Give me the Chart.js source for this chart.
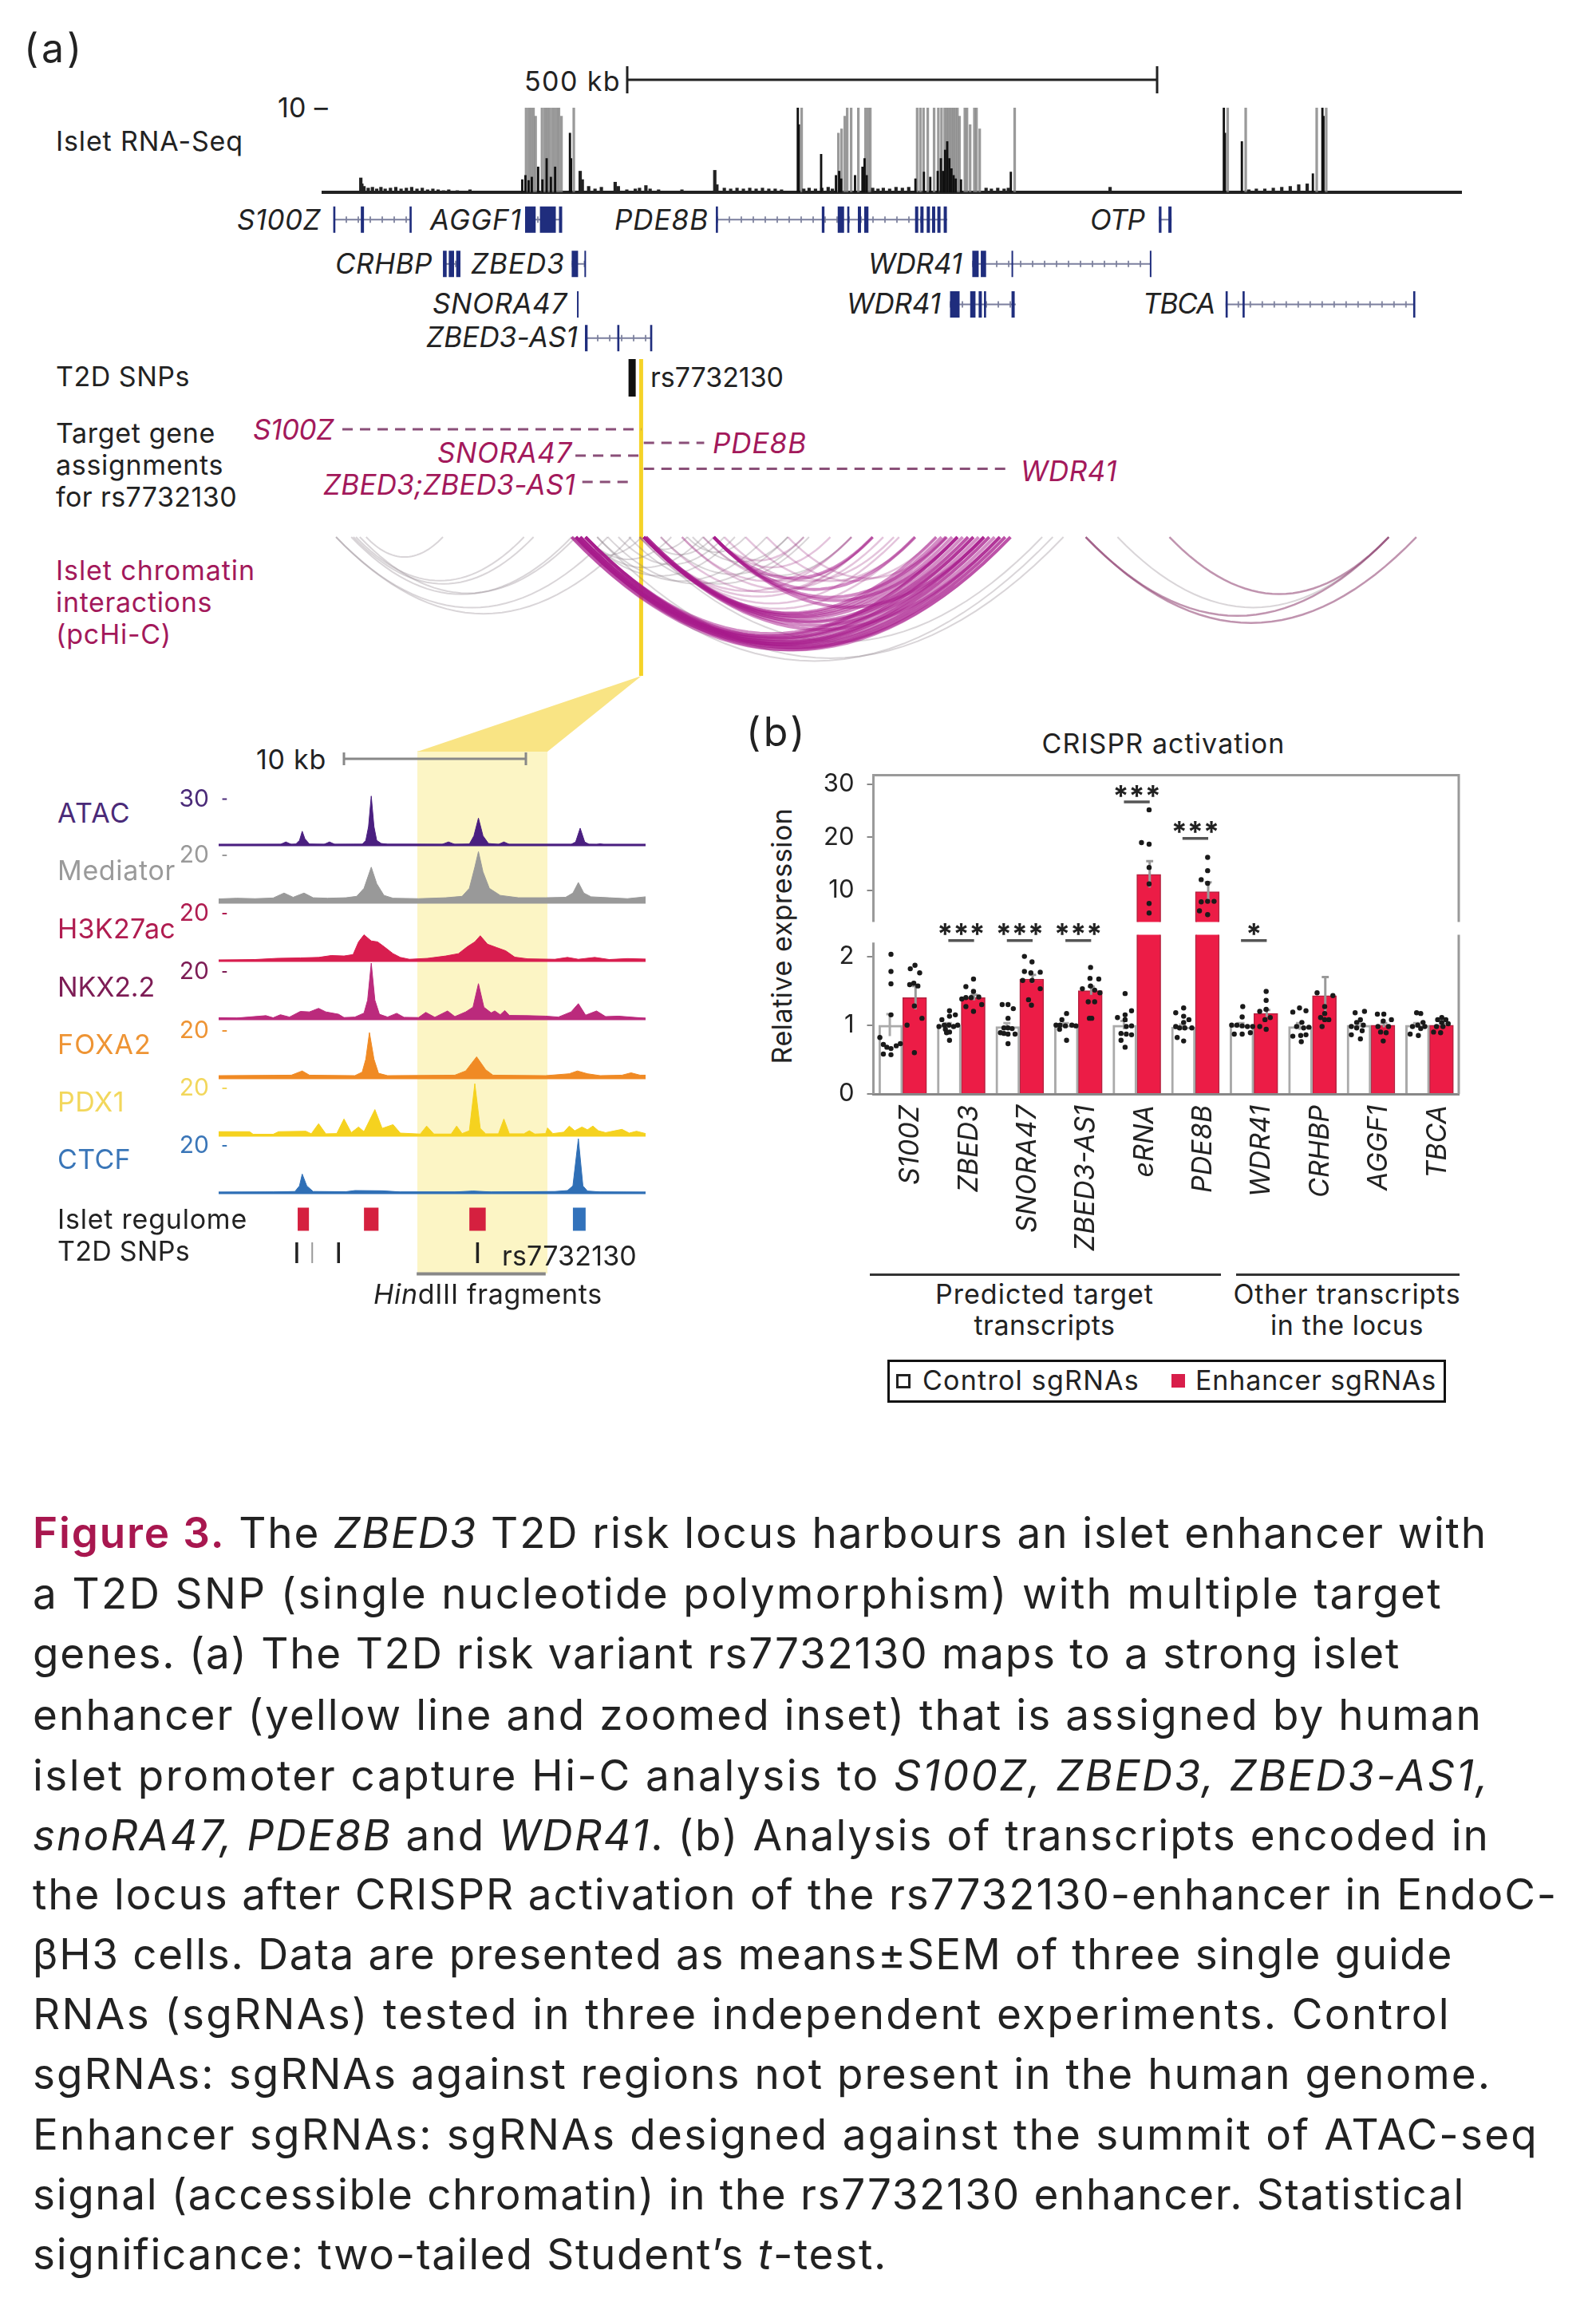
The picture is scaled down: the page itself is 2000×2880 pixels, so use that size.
<!DOCTYPE html>
<html>
<head>
<meta charset="utf-8">
<title>ZBED3 T2D risk locus</title>
<script src="https://cdn.jsdelivr.net/npm/chart.js@4"></script>
<style>
  html, body { margin: 0; background: #fff; }
  #page { position: relative; width: 2000px; height: 2880px; overflow: hidden; font-family: Inter, sans-serif; color: #222; }
  #page canvas { position: absolute; }
  .t { position: absolute; white-space: nowrap; line-height: 1; }
  .box { position: absolute; }
</style>
</head>
<body>
<div id="page"></div>
<script>
// ---- panel (a): all x values in kb along the locus
const locusKb = 1076;
const rnaTallPos = [191,193.5,195.7,198,200,206,208.6,210.8,213,215.5,217.7,220,222,224.4,236,451,485.7,488.7,491.7,494,497.7,504.5,511.3,513.6,515.8,560,563,566,570,576,580,583,586,588,590,592,594,596,598,600,605,607,610,614,616,619,652,853,870,937,946];
const rnaTallVal = [10,10,10,10,9,10,10,10,10,10,10,10,10,9,10,10,7,7.5,9,10,10,10,10,10,10,10,10,10,10,10,10,10,10,10,10,10,10,10,10,9,10,10,8,10,10,7.5,10,10,10,10,10];
const rnaDarkPos = [191,194,197,200,206,210,214,218,222,236,237,451,452,473,487,490,492,505,512,514,516,562,570,576,583,586,588,590,592,594,596,598,600,605,652,853,854,870,937,946,947];
const rnaDarkVal = [1.5,2,1.4,1.8,3,1.5,4,1.8,3,7,4,10,8,4.5,2,2.5,1.6,2,3,4,2,1.6,2.4,1.8,2.5,4,2.5,5,6,4,2.8,2,1.6,1.5,2.4,10,7,6,2.2,10,9];
const rnaLowPos = [37,38,40,44,48,52,56,60,65,70,75,80,85,90,95,100,105,110,115,120,128,140,244,246,252,258,264,277,280,288,296,300,306,310,318,340,371,373,380,386,392,398,404,410,416,422,428,434,455,460,466,472,478,482,520,525,530,536,542,548,554,627,632,638,644,648,744,875,882,890,898,906,914,922,930];
const rnaLowVal = [1.7,1,.7,.5,.6,.4,.6,.4,.5,.6,.4,.5,.6,.4,.5,.3,.4,.3,.2,.3,.2,.3,2.5,1.5,.7,.4,.6,1.2,.7,.3,.4,.5,.8,.4,.3,.3,2.6,.9,.5,.4,.5,.4,.5,.4,.5,.4,.4,.3,.4,.5,.4,.5,.6,.4,.5,.4,.5,.4,.6,.5,.6,.5,.4,.5,.4,.5,.6,.3,.4,.4,.5,.6,.7,.9,1];

const geneRowY = [0, 1.12, 2.15, 3];
const geneIntrons = [
  [0,11.3,84.3],[0,192,226.7],[0,372.7,590.4],[0,790,802],[1,114.5,131],[1,236,248.5],
  [3,248.5,311],[1,613.7,782.4],[2,592.6,655],[2,853,1030.9]
];
const geneExons = [
  [0,11,13],[0,37,40],[0,83,85],[0,192,202],[0,206,221],[0,224,227],
  [0,372,374],[0,472,474.5],[0,487,493],[0,496,498],[0,506,509],[0,512,516],
  [0,560,563],[0,565,568],[0,571,574],[0,576,579],[0,581,584],[0,587,590],[0,790,792.5],[0,799,802],
  [1,114.5,118],[1,120,125],[1,127,131],[1,236,242],[1,248,249.5],
  [1,614,620],[1,622,627],[1,651,652.5],[1,781.5,783],
  [2,241,242.5],[2,593,602],[2,612,617],[2,620,623],[2,625,627],[2,651,654],
  [2,853,855],[2,869,871],[2,1030,1032],
  [3,248.5,251],[3,279,281],[3,310,312]
];

const rsKb = 301.5;
const snpBar = [293, 168, 132.5];
const targetLinks = [[19.6,301.5,101.7],[304,361,88.9],[239.5,301.5,76.8],[304,651,64.4],[246,292,52]];

const arcsStrong = [[236,625],[236,645],[240,600],[240,610],[240,620],[240,630],[240,640],[240,650],[244,605],[244,615],[244,625],[244,635],[244,645],[249,600],[249,615],[249,630],[249,640],[249,650],[304,580],[304,590],[304,600],[304,610],[304,625],[304,640],[306,585],[306,595],[306,615],[370,520],[370,560],[370,589],[370,600],[370,625]];
const arcsMid = [[304,500],[304,520],[304,545],[320,520],[340,500],[340,530],[360,520],[380,540],[400,560],[420,580],[440,590],[300,560],[370,480],[370,455]];
const arcsFaint = [[13.6,292],[28,236],[32.4,191],[42,114.5],[30,200],[36,240],[13.6,270],[236,302],[249,330],[249,360],[249,390],[260,420],[270,440],[280,380],[290,460],[306,370],[300,345],[345,400],[320,455],[350,440],[360,500],[240,690],[260,700],[300,680],[751,1007]];
const arcsOuter = [[800,1007],[721,1033],[721,1007]];

// ---- inset tracks: [kb, signal]
const insetKb = 23.5;
const atacSignal = [[0,.3],[3.4,.4],[3.7,2],[4,.4],[4.25,.6],[4.45,3],[4.6,9],[4.75,4],[5,.6],[5.8,.4],[6.1,2],[6.4,.4],[7.9,.5],[8.1,3],[8.25,12],[8.4,32],[8.55,12],[8.7,3],[8.95,1],[9.3,.5],[10.5,.5],[12.3,.4],[12.65,2],[13,.4],[13.8,.6],[14.05,6],[14.3,17.6],[14.55,6],[14.85,1],[15.4,.4],[15.7,2],[16,.4],[19.4,.4],[19.65,2],[19.9,11],[20.15,2],[20.4,.4],[20.8,.3],[21,.8],[21.2,.3],[23.5,.3]];
const mediatorSignal = [[0,1.5],[1,1.8],[2,1.6],[3,1.9],[3.6,4],[4.1,2.2],[4.7,4],[5.2,2],[6,1.8],[7,2],[7.6,2.6],[8,6],[8.4,15],[8.7,8],[9.1,3],[9.6,1.8],[11,1.6],[12.5,2],[13.4,2.6],[13.8,6],[14.1,15],[14.3,21.6],[14.55,13],[14.9,6],[15.5,3],[16.5,2],[18,2],[19.1,2.2],[19.5,4],[19.8,8.5],[20.1,4],[20.5,2.4],[21.5,2],[22.5,1.6],[23.5,2.4]];
const h3k27acSignal = [[0,.2],[2,.5],[3.2,1],[4.5,1.2],[5.5,1.4],[6.2,2.2],[6.9,2],[7.4,2.6],[7.7,8],[8,11],[8.4,8.4],[8.75,8],[9.1,6],[9.6,3],[10,1.4],[10.5,.6],[11.5,1],[12.5,2],[13.2,3],[13.7,6],[14.1,8],[14.4,10.6],[14.8,7],[15.3,5.6],[15.8,4.2],[16.3,1.5],[17,.8],[18.5,.6],[19.2,1.4],[19.8,.6],[20.7,1.4],[21.5,.5],[22.5,.9],[23.5,.7]];
const nkx22Signal = [[0,.5],[1,.4],[2.6,1.4],[3,.5],[3.4,1.8],[3.9,.8],[4.5,3.2],[5,3],[5.5,4.5],[5.9,3],[6.6,2],[6.9,.6],[7.5,.8],[8,2.5],[8.2,8],[8.4,23.7],[8.6,8],[8.85,2],[9.3,.8],[9.8,2.4],[10.2,.7],[11,.6],[11.4,2.8],[11.9,.7],[12.6,3.4],[13,1],[13.6,3],[14,5],[14.3,15],[14.6,5],[15,2.6],[15.2,3.4],[15.5,1.8],[15.75,3.6],[16,1.5],[17,1.4],[18,1.2],[18.7,.8],[19.4,3],[19.8,6.5],[20.2,1.6],[20.8,3.4],[21.3,1],[22,1.2],[23.5,.3]];
const foxa2Signal = [[0,1],[4,1.2],[4.6,3],[5,1.2],[7.5,1],[7.9,2.5],[8.1,8],[8.3,19.3],[8.55,8],[8.8,2],[9.3,1],[13,1.2],[13.6,3],[14.2,9],[14.7,3.5],[15.1,1.2],[18,1],[19.3,1.8],[19.75,3],[20.3,1.8],[21,1],[22.2,1.2],[22.7,2.2],[23.2,1.2],[23.5,1.2]];
const pdx1Signal = [[0,1.6],[.3,1.6],[1.7,1.6],[1.9,.5],[3,.5],[3.3,1.6],[4.8,1.8],[5.1,.7],[5.5,5],[5.9,.7],[6.5,.8],[6.9,7],[7.3,1.2],[7.7,3.6],[8,1.6],[8.6,11],[9,3],[9.6,4.6],[10,1],[11.1,.6],[11.45,4],[11.85,.6],[12.8,.6],[13.1,4],[13.4,.8],[13.8,2],[14.1,22],[14.4,3],[14.7,.7],[15.4,.7],[15.7,7],[16,.7],[16.8,.7],[17.1,2],[17.4,.6],[18,.8],[18.1,3.2],[18.4,.8],[19,1.4],[19.3,4],[19.6,2],[20,3.6],[20.3,2.4],[20.6,4],[20.9,2],[21.3,1.2],[22.2,2.6],[22.6,1],[23,1.8],[23.5,.8]];
const ctcfSignal = [[0,.3],[3,.4],[4.2,.6],[4.45,3],[4.6,8],[4.85,3],[5.2,.6],[7,.5],[7.5,1],[9,.9],[10,.4],[13,.4],[14,.8],[15,.4],[18.5,.6],[19.2,1],[19.5,3],[19.8,23],[20.05,3],[20.3,.8],[21,.4],[23.5,.3]];

const regulomeRed = [[4.35,4.97],[8,8.8],[13.8,14.7]];
const regulomeBlue = [[19.5,20.2]];
const insetSnps = [4.3,6.6,14.25];
const insetSnpFaint = [5.15];
const hindFragment = [10.9,18];

// ---- panel (b)
const categories = ['S100Z','ZBED3','SNORA47','ZBED3-AS1','eRNA','PDE8B','WDR41','CRHBP','AGGF1','TBCA'];
const controlMeans = [1,1,.98,1,1,.97,1,.98,1,1];
const enhancerMeans = [1.4,1.4,1.67,1.5,13,9.7,1.17,1.43,1,1];
const controlErr = [.16,.03,.05,.03,.06,.04,.03,.05,.03,.03];
const enhancerErr = [.17,.04,.06,.06,2.5,1.8,.05,.27,.03,.02];
const upperTicks = [10,20,30];
const lowerTicks = [0,1,2];

const controlDots = [
  [.30,2.03],[.30,1.78],[.30,1.6],[.30,1.15],[.11,.82],[.17,.72],[.23,.68],[.30,.66],[.39,.7],[.46,.73],[.17,.58],[.30,.57],
  [1.30,1.21],[1.40,1.15],[1.30,1.13],[1.17,1.08],[1.12,.98],[1.21,1],[1.29,1],[1.37,.98],[1.44,1],[1.23,.94],[1.30,.9],[1.25,.89],[1.30,.78],
  [2.2,1.3],[2.30,1.3],[2.39,1.24],[2.30,1.1],[2.23,.96],[2.30,.96],[2.37,.95],[2.17,.89],[2.23,.88],[2.30,.87],[2.42,.87],[2.30,.73],
  [3.30,1.17],[3.22,1.08],[3.12,1],[3.19,1],[3.28,.99],[3.39,1],[3.46,.99],[3.18,.94],[3.30,.78],
  [4.30,1.46],[4.41,1.21],[4.17,1.11],[4.30,1.15],[4.30,1.08],[4.41,.99],[4.32,.98],[4.23,.88],[4.32,.87],[4.41,.86],[4.23,.78],[4.30,.68],
  [5.30,1.25],[5.165,1.18],[5.30,1.13],[5.39,1.08],[5.30,1.04],[5.165,.98],[5.23,.96],[5.32,.96],[5.44,.96],[5.19,.82],[5.30,.77],
  [6.31,1.27],[6.30,1.12],[6.12,1],[6.21,1],[6.30,.99],[6.39,.98],[6.48,.98],[6.165,.87],[6.30,.87],[6.44,.89],
  [7.165,1.19],[7.28,1.25],[7.39,1.21],[7.32,1.04],[7.23,.98],[7.35,.96],[7.44,.97],[7.165,.84],[7.30,.85],[7.39,.86],[7.31,.76],
  [8.23,1.18],[8.39,1.2],[8.32,1.08],[8.256,1.04],[8.165,.98],[8.37,1],[8.256,.96],[8.35,.92],[8.165,.86],[8.32,.8],
  [9.28,1.18],[9.35,1.17],[9.39,1.04],[9.21,.98],[9.30,1],[9.42,.98],[9.35,.95],[9.17,.87],[9.31,.85]
];
const enhancerDots = [
  [.63,1.82],[.71,1.87],[.79,1.76],[.62,1.59],[.69,1.61],[.76,1.57],[.70,1.28],[.83,1.1],[.575,1],[.70,.6],
  [1.71,1.67],[1.58,1.56],[1.71,1.49],[1.58,1.4],[1.67,1.4],[1.80,1.41],[1.58,1.27],[1.85,1.3],[1.71,1.2],[1.51,1.38],
  [2.58,2],[2.71,1.92],[2.58,1.78],[2.69,1.76],[2.85,1.77],[2.55,1.65],[2.71,1.65],[2.85,1.53],[2.65,1.37],[2.70,1.29],
  [3.71,1.84],[3.70,1.68],[3.85,1.67],[3.71,1.57],[3.57,1.53],[3.78,1.51],[3.87,1.47],[3.67,1.34],[3.78,1.34],[3.69,1.1],[3.73,1.1],
  [4.71,25.2],[4.58,19],[4.71,18.7],[4.71,14.3],[4.71,11.2],[4.71,7.5],[4.71,5.7],
  [5.71,16.2],[5.71,13.7],[5.6,12],[5.71,11.3],[5.6,7.8],[5.71,7.9],[5.82,7.9],[5.57,6.1],[5.71,5.4],
  [6.71,1.49],[6.71,1.36],[6.71,1.23],[6.60,1.2],[6.69,1.08],[6.78,1.11],[6.60,.98],[6.71,.94],
  [7.58,1.47],[7.85,1.43],[7.71,1.27],[7.71,1.17],[7.64,1.11],[7.78,1.08],[7.71,1.08],[7.665,.98],
  [8.61,1.16],[8.72,1.16],[8.85,1.08],[8.71,1.06],[8.62,.98],[8.80,.98],[8.665,.9],[8.76,.89],[8.71,.77],
  [9.71,1.11],[9.64,1.08],[9.78,1.08],[9.71,1.04],[9.82,1.02],[9.62,.98],[9.73,.98],[9.57,.9],[9.69,.89]
];
// [group, line value, star value, stars]
const sigUpper = [[4,26.7,28.6,'***'],[5,19.8,21.8,'***']];
const sigLower = [[1,2.23,2.39,'***'],[2,2.23,2.39,'***'],[3,2.23,2.39,'***'],[6,2.23,2.39,'*']];

// caption
const captionLines = [
  '<span style="color:#a8174f;font-weight:600">Figure 3.</span> The <i>ZBED3</i> T2D risk locus harbours an islet enhancer with',
  'a T2D SNP (single nucleotide polymorphism) with multiple target',
  'genes. (a) The T2D risk variant rs7732130 maps to a strong islet',
  'enhancer (yellow line and zoomed inset) that is assigned by human',
  'islet promoter capture Hi-C analysis to <i>S100Z, ZBED3, ZBED3-AS1,</i>',
  '<i>snoRA47, PDE8B</i> and <i>WDR41</i>. (b) Analysis of transcripts encoded in',
  'the locus after CRISPR activation of the rs7732130-enhancer in EndoC-',
  'βH3 cells. Data are presented as means±SEM of three single guide',
  'RNAs (sgRNAs) tested in three independent experiments. Control',
  'sgRNAs: sgRNAs against regions not present in the human genome.',
  'Enhancer sgRNAs: sgRNAs designed against the summit of ATAC-seq',
  'signal (accessible chromatin) in the rs7732130 enhancer. Statistical',
  'significance: two-tailed Student’s <i>t</i>-test.'
];
const captionEnds = [1864,1808,1755,1858,1867,1867,1952,1821,1818,1869,1928,1836,1112];

// ---- helpers
const page = document.getElementById('page');
Chart.defaults.animation = false;
Chart.defaults.responsive = false;
Chart.defaults.font.family = 'Inter';
Chart.defaults.plugins.legend.display = false;
Chart.defaults.plugins.tooltip.enabled = false;
Chart.defaults.elements.point.radius = 0;
Chart.defaults.elements.line.tension = 0;

function text(html, x, y, o = {}) {
  const el = document.createElement('div');
  el.className = 't';
  el.innerHTML = html;
  el.style.left = x + 'px';
  el.style.top = y + 'px';
  el.style.fontSize = (o.size || 34) + 'px';
  el.style.color = o.color || '#222';
  if (o.italic) el.style.fontStyle = 'italic';
  if (o.weight) el.style.fontWeight = o.weight;
  const ax = o.align === 'right' ? '-100%' : o.align === 'center' ? '-50%' : '0';
  el.style.transform = `translate(${ax},-50%)` + (o.rot ? ` rotate(${o.rot}deg)` : '');
  page.appendChild(el);
  if (o.w) {
    const n = el.textContent.length;
    el.style.letterSpacing = ((o.w - el.getBoundingClientRect()[o.rot ? 'height' : 'width']) / n) + 'px';
  }
  return el;
}

function box(l, t, w, h, css) {
  const el = document.createElement('div');
  el.className = 'box';
  el.style.cssText = `left:${l}px;top:${t}px;width:${w}px;height:${h}px;${css}`;
  page.appendChild(el);
  return el;
}

function canvasAt(l, t, w, h) {
  const c = document.createElement('canvas');
  c.width = w; c.height = h;
  c.style.left = l + 'px';
  c.style.top = t + 'px';
  page.appendChild(c);
  return c;
}

// chart whose plot area sits exactly on (l,t,w,h); no visible axes
function overlay(l, t, w, h, xRange, yRange, datasets, type = 'scatter') {
  const p = 10;
  const flip = yRange[0] > yRange[1];
  return new Chart(canvasAt(l - p, t - p, w + 2 * p, h + 2 * p), {
    type,
    data: { datasets },
    options: {
      layout: { padding: p },
      scales: {
        x: { type: 'linear', min: xRange[0], max: xRange[1], display: false, offset: false },
        y: { type: 'linear', min: Math.min(...yRange), max: Math.max(...yRange), reverse: flip, display: false }
      }
    }
  });
}

// horizontal runs [a,b] at height y, with gaps between them
function hSegs(runs) {
  const out = [];
  runs.forEach(([a, b, y]) => out.push({ x: a, y }, { x: b, y }, { x: b, y: NaN }));
  return out;
}
function vSegs(runs) {
  const out = [];
  runs.forEach(([x, a, b]) => out.push({ x, y: a }, { x, y: b }, { x, y: NaN }));
  return out;
}
const line = (data, color, width, extra = {}) => ({ type: 'line', data, borderColor: color, borderWidth: width, fill: false, clip: false, borderCapStyle: 'butt', ...extra });

// ---- backgrounds for the zoom inset
box(523, 941, 163, 655, 'background:#fcf5c5');
box(523, 847, 281, 95, 'background:#f9e484;clip-path:polygon(100% 0,58% 100%,0 100%)');

// ---- panel (a) texts
text('(a)', 30, 60, { size: 50, w: 76 });
text('500 kb', 657, 102, { w: 121 });
text('10 –', 348, 135, { w: 63 });
text('Islet RNA-Seq', 70, 177, { w: 235 });
[['S100Z',297,275,105],['AGGF1',539,275,115],['PDE8B',770,275,118],['OTP',1366,275,68],
 ['CRHBP',420,330,122],['ZBED3',590,330,118],['WDR41',1088,330,118],
 ['SNORA47',542,380,169],['WDR41',1061,380,118],['TBCA',1432,380,90],['ZBED3-AS1',534,422,190]]
  .forEach(([g, x, y, w]) => text(g, x, y, { italic: true, size: 35, w }));
text('T2D SNPs', 70, 472, { w: 168 });
text('rs7732130', 815, 473, { w: 167 });
text('Target gene', 70, 543, { w: 200 });
text('assignments', 70, 583, { w: 210 });
text('for rs7732130', 70, 623, { w: 227 });
[['S100Z',317,538,101],['SNORA47',548,567,169],['PDE8B',893,555,118],['WDR41',1279,590,121],['ZBED3;ZBED3-AS1',405,607,316]]
  .forEach(([g, x, y, w]) => text(g, x, y, { italic: true, size: 35, w, color: '#a3195b' }));
const maroon = '#a3195b';
text('Islet chromatin', 70, 715, { w: 250, color: maroon });
text('interactions', 70, 755, { w: 196, color: maroon });
text('(pcHi-C)', 70, 795, { w: 145, color: maroon });

// ---- RNA-seq
const rnaPts = (xs, ys) => xs.map((x, i) => ({ x, y: ys[i] }));
overlay(403, 135, 1429, 106, [0, locusKb], [0, 10], [
  { type: 'bar', data: rnaPts(rnaDarkPos, rnaDarkVal), backgroundColor: '#111', barThickness: 2.2 },
  { type: 'bar', data: rnaPts(rnaLowPos, rnaLowVal), backgroundColor: '#222', barThickness: 3.5 },
  { type: 'bar', data: rnaPts(rnaTallPos, rnaTallVal), backgroundColor: 'rgba(125,125,125,.78)', barThickness: 2.6 },
  line([{ x: 0, y: 0 }, { x: locusKb, y: 0 }], '#222', 4)
], 'bar');

// scale bars
function scaleBar(l, t, w, h, span, color, lw) {
  overlay(l, t, w, h, [0, span], [-1, 1], [
    line([...hSegs([[0, span, 0]]), ...vSegs([[0, -1, 1], [span, -1, 1]])], color, lw)
  ]);
}
scaleBar(786, 83, 664, 34, 500, '#222', 3);
scaleBar(430.5, 943, 228, 16, 10, '#888', 3);

// ---- gene models
overlay(403, 250, 1429, 190, [0, locusKb], [3 + 0.33, -0.51], [
  line(hSegs(geneExons.map(([r, a, b]) => [a, b, geneRowY[r]])), '#1f2d7d', 33),
  line(hSegs(geneIntrons.map(([r, a, b]) => [a, b, geneRowY[r]])), '#7b7f9e', 2),
  line(hSegs(geneIntrons.map(([r, a, b]) => [a, b, geneRowY[r]])), 'rgba(90,95,130,.7)', 8, { borderDash: [2, 13] })
]);

// ---- SNP, target links, chromatin arcs and the yellow enhancer line share one axis frame
function arcPoints([a, b]) {
  const mid = (a + b) / 2, half = (b - a) / 2, depth = 0.26 * (b - a), pts = [];
  for (let k = 0; k <= 32; k++) {
    const t = -1 + k / 16;
    pts.push({ x: mid + t * half, y: -depth * (1 - t * t) });
  }
  return pts;
}
overlay(403, 440, 1429, 420, [0, locusKb], [-140.8, 175.5], [
  ...arcsStrong.map(a => line(arcPoints(a), 'rgba(168,25,140,.5)', 4)),
  ...arcsOuter.map(a => line(arcPoints(a), 'rgba(140,60,110,.55)', 2.5)),
  ...arcsMid.map(a => line(arcPoints(a), 'rgba(165,60,140,.3)', 2.5)),
  ...arcsFaint.map(a => line(arcPoints(a), 'rgba(130,115,125,.3)', 2)),
  line(vSegs([[snpBar[0], snpBar[1], snpBar[2]]]), '#111', 9),
  line(hSegs(targetLinks), '#8a4f78', 3, { borderDash: [13, 9] }),
  line(vSegs([[rsKb, 168, -131]]), '#f5d327', 5)
]);

// ---- inset
text('10 kb', 321, 952, { w: 88 });
const tracks = [
  ['ATAC', atacSignal, '#4a1f80', '#4a2a78', 30, 1058.5, 1019, 57.5, 92],
  ['Mediator', mediatorSignal, '#999', '#9a9a9a', 20, 1131, 1091, 59, 148],
  ['H3K27ac', h3k27acSignal, '#d81e4f', '#b01c50', 20, 1204, 1164, 59, 148],
  ['NKX2.2', nkx22Signal, '#bb2a7c', '#7d1c55', 20, 1277, 1237, 59, 122],
  ['FOXA2', foxa2Signal, '#f08a24', '#ee9434', 20, 1351, 1309, 59, 118],
  ['PDX1', pdx1Signal, '#f5d21f', '#f2d75c', 20, 1422.5, 1381, 59, 84],
  ['CTCF', ctcfSignal, '#2f6fb6', '#3a76b8', 20, 1495, 1453, 59, 92]
];
tracks.forEach(([name, signal, color, labelColor, tick, base, labelY, tickPx, labelW]) => {
  text(name, 72, labelY, { color: labelColor, w: labelW });
  const plotH = 70, yMax = tick * plotH / tickPx, pad = 22;
  new Chart(canvasAt(215, base - plotH - pad, 609, plotH + 2 * pad), {
    type: 'line',
    data: {
      datasets: [
        { data: signal.map(([x, y]) => ({ x, y })), borderColor: color, borderWidth: 1, backgroundColor: color, fill: 'origin' },
        line([{ x: 0, y: 0 }, { x: insetKb, y: 0 }], color, 3),
        line([{ x: .2, y: tick }, { x: .45, y: tick }], labelColor, 2)
      ]
    },
    options: {
      layout: { padding: { top: pad, bottom: pad, right: 15, left: 0 } },
      scales: {
        x: { type: 'linear', min: 0, max: insetKb, display: false },
        y: {
          min: 0, max: yMax,
          afterFit: s => { s.width = 59; },
          afterBuildTicks: s => { s.ticks = [{ value: tick }]; },
          grid: { display: false }, border: { display: false },
          ticks: { color: labelColor, font: { size: 30 }, padding: 4 }
        }
      }
    }
  });
});

// regulome, SNP ticks and the HindIII fragment under the tracks
overlay(274, 1505, 535, 100, [0, insetKb], [100, 0], [
  line(hSegs(regulomeRed.map(([a, b]) => [a, b, 23])), '#d5203f', 29),
  line(hSegs(regulomeBlue.map(([a, b]) => [a, b, 23])), '#3272bb', 29),
  line(vSegs(insetSnps.map(x => [x, 52, 78])), '#222', 3.5),
  line(vSegs(insetSnpFaint.map(x => [x, 52, 78])), '#999', 2),
  line(hSegs([[hindFragment[0], hindFragment[1], 91.5]]), '#888', 4)
]);
text('Islet regulome', 72, 1528, { w: 238 });
text('T2D SNPs', 72, 1568, { w: 166 });
text('rs7732130', 629, 1574, { w: 169 });
text('<i>Hin</i>dIII fragments', 468, 1622, { w: 287 });

// ---- panel (b)
text('(b)', 935, 917, { size: 50, w: 77 });
text('CRISPR activation', 1458, 932, { align: 'center', w: 305 });
text('Relative expression', 980, 1173, { align: 'center', rot: -90, w: 321 });

const red = '#ec1c46';
function starPlugin(sig) {
  return {
    id: 'sigStars',
    afterDatasetsDraw(chart) {
      const c = chart.ctx, xp = chart.scales.xp, y = chart.scales.y;
      c.save();
      c.fillStyle = '#222';
      c.font = 'bold 36px Inter';
      c.textAlign = 'center';
      c.textBaseline = 'middle';
      sig.forEach(([g, , v, s]) => c.fillText(s, xp.getPixelForValue(g + .5), y.getPixelForValue(v) + 7));
      c.restore();
    }
  };
}
function barChart(l, t, w, h, pad, yOpts, frame, sig, xAxis) {
  const errs = (means, err, off) => {
    const out = [];
    means.forEach((m, i) => {
      const x = i + off;
      out.push({ x, y: m - err[i] }, { x, y: m + err[i] }, { x, y: NaN });
      out.push({ x: x - .06, y: m + err[i] }, { x: x + .06, y: m + err[i] }, { x: x + .06, y: NaN });
    });
    return out;
  };
  const sigLines = hSegs(sig.map(([g, v]) => [g + .28, g + .72, v]));
  return new Chart(canvasAt(l, t, w, h), {
    type: 'bar',
    data: {
      labels: categories,
      datasets: [
        { type: 'scatter', xAxisID: 'xp', data: [...controlDots, ...enhancerDots].map(([x, y]) => ({ x, y })), backgroundColor: '#1a1a1a', pointRadius: 3.2, borderWidth: 0 },
        line(sigLines, '#555', 3.5, { xAxisID: 'xp' }),
        line(errs(controlMeans, controlErr, .28), '#aaa', 3, { xAxisID: 'xp', clip: true }),
        line(errs(enhancerMeans, enhancerErr, .72), '#999', 3, { xAxisID: 'xp', clip: true }),
        line(frame, '#9a9a9a', 3, { xAxisID: 'xp' }),
        { label: 'Control sgRNAs', data: controlMeans, backgroundColor: '#fff', borderColor: '#aaa', borderWidth: 3 },
        { label: 'Enhancer sgRNAs', data: enhancerMeans, backgroundColor: red, borderColor: '#b4203e', borderWidth: 1.5 }
      ]
    },
    options: {
      layout: { padding: pad },
      datasets: { bar: { barThickness: 30 } },
      scales: {
        x: xAxis,
        xp: { type: 'linear', min: 0, max: 10, display: false, offset: false },
        y: {
          afterFit: s => { s.width = 94.5; },
          grid: { drawOnChartArea: false, tickLength: 8, color: '#888', lineWidth: 2 },
          border: { display: false },
          ticks: { color: '#222', font: { size: 31 }, padding: 16 },
          ...yOpts
        }
      }
    },
    plugins: [starPlugin(sig)]
  });
}
const fixedTicks = vals => s => { s.ticks = vals.map(value => ({ value })); };

// upper part of the broken axis
barChart(1000, 937, 860, 253, { top: 30, bottom: 30.4, right: 32, left: 0 },
  { min: 4.01, max: 31.73, afterBuildTicks: fixedTicks(upperTicks) },
  [{ x: 0, y: 4.01 }, { x: 0, y: 31.73 }, { x: 10, y: 31.73 }, { x: 10, y: 4.01 }],
  sigUpper, { display: false });

// lower part
barChart(1000, 1137, 860, 440, { top: 30, bottom: 0, right: 32, left: 0 },
  { min: 0, max: 2.313, afterBuildTicks: fixedTicks(lowerTicks) },
  [{ x: 0, y: 0 }, { x: 0, y: 2.2 }, { x: 0, y: NaN }, { x: 10, y: 0 }, { x: 10, y: 2.313 }],
  sigLower, {
    afterFit: s => { s.height = 206; },
    grid: { display: false },
    border: { color: '#888', width: 3 },
    ticks: { color: '#222', font: { size: 34, style: 'italic' }, minRotation: 90, maxRotation: 90, padding: 6, labelOffset: 10, autoSkip: false }
  });

box(1090, 1596, 440, 3, 'background:#333');
box(1549, 1596, 280, 3, 'background:#333');
text('Predicted target', 1309, 1622, { align: 'center', w: 274 });
text('transcripts', 1309, 1661, { align: 'center', w: 177 });
text('Other transcripts', 1688, 1622, { align: 'center', w: 285 });
text('in the locus', 1688, 1661, { align: 'center', w: 192 });

box(1112, 1704, 694, 48, 'border:3px solid #111;background:#fff');
box(1123, 1722, 12, 12, 'border:3px solid #222;background:#fff');
text('Control sgRNAs', 1156, 1730, { w: 272 });
box(1468, 1722, 17, 17, 'background:#d81e4a');
text('Enhancer sgRNAs', 1498, 1730, { w: 302 });

// ---- caption
const captionY = [1921,1997,2072,2149,2225,2300,2374,2449,2524,2599,2675,2750,2825];
captionLines.forEach((ln, i) => text(ln, 41, captionY[i], { size: 53, w: captionEnds[i] - 41 }));
</script>
</body>
</html>
